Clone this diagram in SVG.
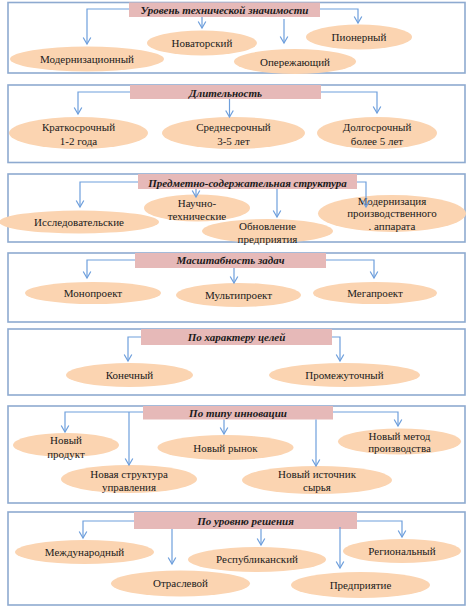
<svg xmlns="http://www.w3.org/2000/svg" width="468" height="606" viewBox="0 0 468 606">
<style>
.frame{fill:#ffffff;stroke:#8eaad0;stroke-width:1.6}
.title{fill:#e6b9b8}
.el{fill:#fbd4b1}
.tt{font-family:"Liberation Serif","Times New Roman",serif;font-size:11px;font-weight:bold;font-style:italic;fill:#1a1a1a;text-anchor:middle}
.t{font-family:"Liberation Serif","Times New Roman",serif;font-size:11px;fill:#1a1a1a;text-anchor:middle}
.c{fill:none;stroke:#6e9fdc;stroke-width:1.2;marker-end:url(#arr)}
</style>
<defs>
<marker id="arr" markerUnits="userSpaceOnUse" viewBox="-8 -5 9 10" refX="0" refY="0" markerWidth="9" markerHeight="10" orient="auto" overflow="visible">
<path d="M-6.5,-3.8 L0,0 L-6.5,3.8" fill="none" stroke="#6e9fdc" stroke-width="1.2"/>
</marker>
</defs>

<!-- Panel frames -->
<g id="frames">
<rect class="frame" x="8" y="2.5" width="457" height="70.5"/>
<rect class="frame" x="8" y="85" width="457" height="77.5"/>
<rect class="frame" x="8" y="174" width="457" height="68"/>
<rect class="frame" x="8" y="253" width="457" height="69"/>
<rect class="frame" x="8" y="329" width="457" height="66"/>
<rect class="frame" x="8" y="406" width="457" height="97"/>
<rect class="frame" x="8" y="512" width="457" height="93"/>
</g>

<!-- Panel 1 -->
<g id="title1"><rect class="title" x="129" y="2.5" width="191" height="14.5"/><text class="tt" x="224.5" y="14">Уровень технической значимости</text></g>
<g id="n1a"><ellipse class="el" cx="87" cy="59" rx="77" ry="12.5"/><text class="t" x="87" y="63">Модернизационный</text></g>
<g id="n1b"><ellipse class="el" cx="202" cy="43" rx="55" ry="12.5"/><text class="t" x="202" y="47">Новаторский</text></g>
<g id="n1c"><ellipse class="el" cx="295" cy="61.5" rx="61" ry="12.5"/><text class="t" x="295" y="66">Опережающий</text></g>
<g id="n1d"><ellipse class="el" cx="359" cy="37" rx="53" ry="12.5"/><text class="t" x="359" y="41">Пионерный</text></g>

<!-- Panel 2 -->
<g id="title2"><rect class="title" x="130" y="85" width="191" height="14"/><text class="tt" x="225.5" y="97">Длительность</text></g>
<g id="n2a"><ellipse class="el" cx="78.5" cy="133" rx="69.5" ry="16"/><text class="t" x="78.5" y="131">Краткосрочный</text><text class="t" x="78.5" y="145">1-2 года</text></g>
<g id="n2b"><ellipse class="el" cx="233.5" cy="133" rx="71.5" ry="16"/><text class="t" x="233.5" y="131">Среднесрочный</text><text class="t" x="233.5" y="145">3-5 лет</text></g>
<g id="n2c"><ellipse class="el" cx="377" cy="133" rx="60" ry="16"/><text class="t" x="377" y="131">Долгосрочный</text><text class="t" x="377" y="145">более 5 лет</text></g>

<!-- Panel 3 -->
<g id="title3"><rect class="title" x="138" y="174" width="219" height="15"/><text class="tt" x="247.5" y="187">Предметно-содержательная структура</text></g>
<g id="n3a"><ellipse class="el" cx="79" cy="222" rx="80" ry="11.5"/><text class="t" x="79" y="226">Исследовательские</text></g>
<g id="n3b"><ellipse class="el" cx="197" cy="208" rx="53" ry="13.5"/><text class="t" x="197" y="207">Научно-</text><text class="t" x="197" y="220">технические</text></g>
<g id="n3c"><ellipse class="el" cx="267.5" cy="231" rx="65.5" ry="12"/><text class="t" x="267.5" y="230">Обновление</text><text class="t" x="267.5" y="243">предприятия</text></g>
<g id="n3d"><ellipse class="el" cx="392" cy="213.5" rx="74" ry="18.5"/><text class="t" x="392" y="205">Модернизация</text><text class="t" x="392" y="217">производственного</text><text class="t" x="392" y="230">. аппарата</text></g>

<!-- Panel 4 -->
<g id="title4"><rect class="title" x="135" y="253" width="191" height="15"/><text class="tt" x="230.5" y="264">Масштабность задач</text></g>
<g id="n4a"><ellipse class="el" cx="93" cy="293" rx="68" ry="11"/><text class="t" x="93" y="297">Монопроект</text></g>
<g id="n4b"><ellipse class="el" cx="238.5" cy="295" rx="62.5" ry="12"/><text class="t" x="238.5" y="299">Мультипроект</text></g>
<g id="n4c"><ellipse class="el" cx="375" cy="293" rx="62" ry="11"/><text class="t" x="375" y="297">Мегапроект</text></g>

<!-- Panel 5 -->
<g id="title5"><rect class="title" x="141" y="329" width="191" height="16"/><text class="tt" x="236.5" y="341">По характеру целей</text></g>
<g id="n5a"><ellipse class="el" cx="129.5" cy="375" rx="63.5" ry="12"/><text class="t" x="129.5" y="379">Конечный</text></g>
<g id="n5b"><ellipse class="el" cx="344.5" cy="375" rx="75.5" ry="12"/><text class="t" x="344.5" y="379">Промежуточный</text></g>

<!-- Panel 6 -->
<g id="title6"><rect class="title" x="143" y="406" width="190" height="13.5"/><text class="tt" x="238" y="417">По типу инновации</text></g>
<g id="n6a"><ellipse class="el" cx="66" cy="445" rx="53" ry="12"/><text class="t" x="66" y="444">Новый</text><text class="t" x="66" y="458">продукт</text></g>
<g id="n6b"><ellipse class="el" cx="225.5" cy="447.5" rx="68" ry="12.5"/><text class="t" x="225.5" y="452">Новый рынок</text></g>
<g id="n6c"><ellipse class="el" cx="399.5" cy="441.5" rx="61.5" ry="13"/><text class="t" x="399.5" y="440">Новый метод</text><text class="t" x="399.5" y="452">производства</text></g>
<g id="n6d"><ellipse class="el" cx="129" cy="479" rx="68" ry="14"/><text class="t" x="129" y="478">Новая структура</text><text class="t" x="129" y="491">управления</text></g>
<g id="n6e"><ellipse class="el" cx="317" cy="480" rx="75" ry="14"/><text class="t" x="317" y="478">Новый источник</text><text class="t" x="317" y="491">сырья</text></g>

<!-- Panel 7 -->
<g id="title7"><rect class="title" x="134" y="512" width="223" height="17"/><text class="tt" x="245.5" y="525">По уровню решения</text></g>
<g id="n7a"><ellipse class="el" cx="84.5" cy="552" rx="69.5" ry="12"/><text class="t" x="84.5" y="556">Международный</text></g>
<g id="n7b"><ellipse class="el" cx="257" cy="559.5" rx="69" ry="12.5"/><text class="t" x="257" y="563">Республиканский</text></g>
<g id="n7c"><ellipse class="el" cx="402" cy="551" rx="59" ry="12"/><text class="t" x="402" y="555">Региональный</text></g>
<g id="n7d"><ellipse class="el" cx="180.5" cy="583.5" rx="69.5" ry="13"/><text class="t" x="180.5" y="587">Отраслевой</text></g>
<g id="n7e"><ellipse class="el" cx="360.5" cy="585" rx="69.5" ry="13"/><text class="t" x="360.5" y="589">Предприятие</text></g>

<!-- Connectors -->
<g id="connectors">
<polyline class="c" points="129,9 87,9 87,44"/>
<polyline class="c" points="202,17 202,28"/>
<polyline class="c" points="284,19 284,43"/>
<polyline class="c" points="320,9 358,9 358,23"/>

<polyline class="c" points="130,92 78,92 78,114"/>
<polyline class="c" points="229.5,99 229.5,117"/>
<polyline class="c" points="321,92 377,92 377,113"/>

<polyline class="c" points="138,182 80,182 80,207"/>
<polyline class="c" points="196,189 196,197"/>
<polyline class="c" points="277,189 277,217"/>
<polyline class="c" points="357,182 366,182 366,207"/>

<polyline class="c" points="135,260 87,260 87,278"/>
<polyline class="c" points="234,268 234,283"/>
<polyline class="c" points="326,260 374,260 374,278"/>

<polyline class="c" points="141,337 128,337 128,361"/>
<polyline class="c" points="332,337 340,337 340,361"/>

<polyline class="c" points="143,412 65,412 65,432"/>
<polyline class="c" points="129,412 129,465"/>
<polyline class="c" points="224,419.5 224,434"/>
<polyline class="c" points="316,419.5 316,466"/>
<polyline class="c" points="333,412 398,412 398,426"/>

<polyline class="c" points="134,521 83,521 83,538"/>
<polyline class="c" points="172,529 172,564"/>
<polyline class="c" points="261,529 261,545"/>
<polyline class="c" points="340,527 340,568"/>
<polyline class="c" points="357,521 402,521 402,537"/>
</g>
</svg>
